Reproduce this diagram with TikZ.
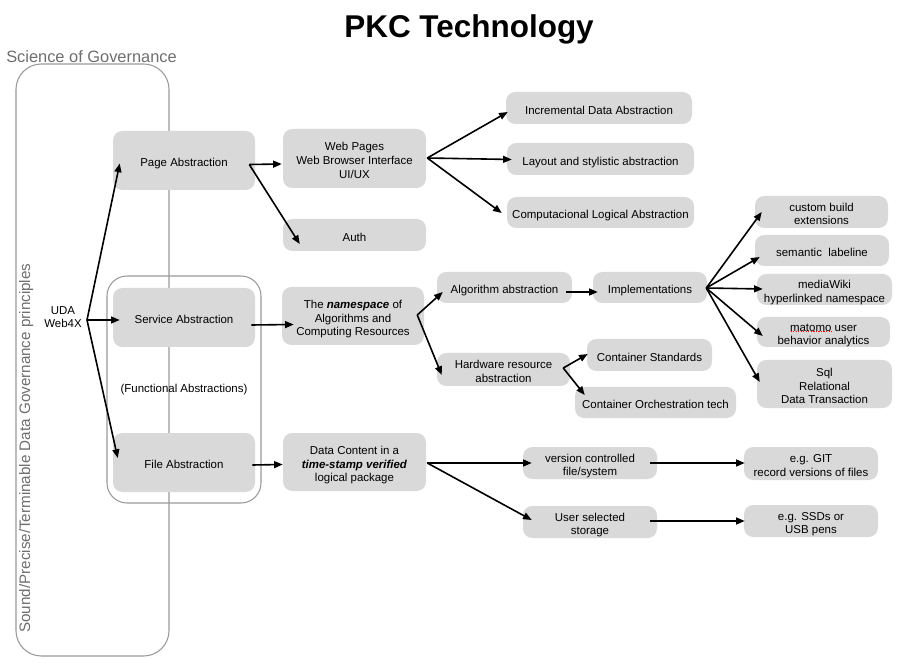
\documentclass[tikz,border=0pt]{standalone}
\usepackage{fontspec}
\setmainfont{Liberation Sans}
\usetikzlibrary{arrows.meta,calc}
\definecolor{boxgray}{HTML}{D9D9D9}
\definecolor{framegray}{HTML}{9A9A9A}
\definecolor{labelgray}{HTML}{6E6E6E}
\newcommand{\boxtxt}[1]{\raisebox{-2.5pt}[\height][\depth]{\begin{tabular}{@{}c@{}}#1\end{tabular}}}
\begin{document}
\begin{tikzpicture}[x=0.75pt,y=-0.75pt,
  bx/.style={fill=boxgray, rounded corners=7pt, inner sep=0pt,
    font=\fontsize{8.6}{10.3}\selectfont},
  sz/.style 2 args={minimum width=#1*0.75pt, minimum height=#2*0.75pt},
  arr/.style={-{Triangle[length=6.5pt,width=5.2pt]}, line width=1.2pt},
  frame/.style={draw=framegray, line width=0.8pt},
  plain/.style={inner sep=0pt, align=center, font=\fontsize{8.6}{10.3}\selectfont}]
\useasboundingbox (0,0) rectangle (900,670);

% frames
\draw[frame, rounded corners=19pt] (16,64) rectangle (169,656);
\draw[frame, rounded corners=15pt] (107,276) rectangle (261,503);

% titles and side labels
\node[anchor=base, inner sep=0pt, font=\fontsize{23.6}{28}\selectfont\bfseries] (title) at (469,38) {PKC Technology};
\node[anchor=base west, inner sep=0pt, text=labelgray, font=\fontsize{12.3}{14}\selectfont] (sog) at (6,63) {Science of Governance};
\node[rotate=90, anchor=base west, inner sep=0pt, text=labelgray, font=\fontsize{11.4}{13}\selectfont] (sound) at (30,633) {Sound/Precise/Terminable Data Governance principles};
\node[plain] (uda) at (63,317) {UDA\\Web4X};

% boxes
\node[bx, sz={142}{59}] (page) at (184,160.5) {\boxtxt{Page Abstraction}};
\node[bx, sz={142}{59}] (service) at (184,317.5) {\boxtxt{Service Abstraction}};
\node[bx, sz={142}{59}] (file) at (184,462.5) {\boxtxt{File Abstraction}};
\node[plain] (func) at (184,390) {(Functional Abstractions)};

\node[bx, sz={143}{59}] (web) at (354.5,158.5) {\boxtxt{Web Pages\\Web Browser Interface\\UI/UX}};
\node[bx, sz={143}{32}] (auth) at (354.5,235) {\boxtxt{Auth}};
\node[bx, sz={186}{32}] (incr) at (599,108) {\boxtxt{Incremental Data Abstraction}};
\node[bx, sz={187}{32}] (layout) at (600.5,159) {\boxtxt{Layout and stylistic abstraction}};
\node[bx, sz={187}{31}] (comp) at (600.5,212.5) {\boxtxt{Computacional Logical Abstraction}};

\node[bx, sz={142}{58}] (ns) at (353,316) {\boxtxt{The \textbf{\textit{namespace}} of\\Algorithms and\\Computing Resources}};
\node[bx, sz={135}{31}] (algo) at (504.5,287.5) {\boxtxt{Algorithm abstraction}};
\node[bx, sz={114}{31}] (impl) at (650,287.5) {\boxtxt{Implementations}};
\node[bx, sz={133}{33}] (hw) at (503.5,369.5) {\boxtxt{Hardware resource\\abstraction}};
\node[bx, sz={125}{32}] (cstd) at (649.5,355) {\boxtxt{Container Standards}};
\node[bx, sz={161}{31}] (corch) at (655.5,402.5) {\boxtxt{Container Orchestration tech}};

\node[bx, sz={133}{32}] (custom) at (821.5,212) {\boxtxt{custom build\\extensions}};
\node[bx, sz={134}{31}] (sem) at (822,250.5) {\boxtxt{semantic\ \ labeline}};
\node[bx, sz={135}{31}] (mw) at (824.5,289.5) {\boxtxt{mediaWiki\\hyperlinked namespace}};
\node[bx, sz={133}{30}] (mat) at (823.5,332) {\boxtxt{matomo user\\behavior analytics}};
\node[bx, sz={135}{48}] (sql) at (824.5,384) {\boxtxt{Sql\\Relational\\Data Transaction}};

\node[bx, sz={143}{58}] (data) at (354.5,462) {\boxtxt{Data Content in a\\\textbf{\textit{time-stamp verified}}\\logical package}};
\node[bx, sz={134}{32}] (ver) at (590,463) {\boxtxt{version controlled\\file/system}};
\node[bx, sz={134}{33}] (git) at (811,463.5) {\boxtxt{e.g. GIT\\record versions of files}};
\node[bx, sz={134}{32}] (user) at (590,522) {\boxtxt{User selected\\storage}};
\node[bx, sz={134}{32}] (ssd) at (811,521) {\boxtxt{e.g. SSDs or\\USB pens}};

% spell-check underline
\draw[red, densely dotted, line width=0.9pt] ($(mat.center)+(-33,-0.5)$) -- ($(mat.center)+(8,-0.5)$);

% fan origins
\coordinate (udaO) at (87,320);
\coordinate (pO) at ($(page.east)+(-6,4)$);
\coordinate (wO) at ($(web.east)+(1,-0.5)$);
\coordinate (sO) at ($(service.east)+(-4,7.5)$);
\coordinate (nsO) at ($(ns.east)+(-7,-1)$);
\coordinate (hwO) at ($(hw.east)+(-7,-1.5)$);
\coordinate (iO) at ($(impl.east)+(-1,0.5)$);
\coordinate (fO) at ($(file.east)+(-3,2.5)$);
\coordinate (dO) at ($(data.east)+(1,1)$);

% connectors
\draw[arr] (udaO) -- ($(page.west)+(7,3)$);
\draw[arr] (udaO) -- ($(service.west)+(7,2.5)$);
\draw[arr] (udaO) -- ($(file.west)+(5,-4.5)$);

\draw[arr] (pO) -- ($(web.west)+(-1,5.5)$);
\draw[arr] (pO) -- ($(auth.west)+(17,9)$);

\draw[arr] (wO) -- ($(incr.west)+(2,4)$);
\draw[arr] (wO) -- ($(layout.west)+(5,0.5)$);
\draw[arr] (wO) -- ($(comp.west)+(-5,0.5)$);

\draw[arr] (sO) -- ($(ns.west)+(12,8.5)$);
\draw[arr] (nsO) -- ($(algo.west)+(6,4.5)$);
\draw[arr] (nsO) -- ($(hw.west)+(5,5.5)$);
\draw[arr] ($(algo.east)+(-6,4.5)$) -- ($(impl.west)+(5,4.5)$);
\draw[arr] (hwO) -- ($(cstd.west)+(1,-1)$);
\draw[arr] (hwO) -- ($(corch.west)+(10,-7.5)$);

\draw[arr] (iO) -- ($(custom.west)+(7,0)$);
\draw[arr] (iO) -- ($(sem.west)+(5,6.5)$);
\draw[arr] (iO) -- ($(mw.west)+(6,-0.5)$);
\draw[arr] (iO) -- ($(mat.west)+(6,4)$);
\draw[arr] (iO) -- ($(sql.west)+(3,-2)$);

\draw[arr] (fO) -- ($(data.west)+(0,2.5)$);
\draw[arr] (dO) -- ($(ver.west)+(9,0)$);
\draw[arr] (dO) -- ($(user.west)+(9,-2)$);
\draw[arr] ($(ver.east)+(-7,0)$) -- ($(git.west)+(1,-0.5)$);
\draw[arr] ($(user.east)+(-7,-1)$) -- ($(ssd.west)+(1,0)$);
\end{tikzpicture}
\end{document}
